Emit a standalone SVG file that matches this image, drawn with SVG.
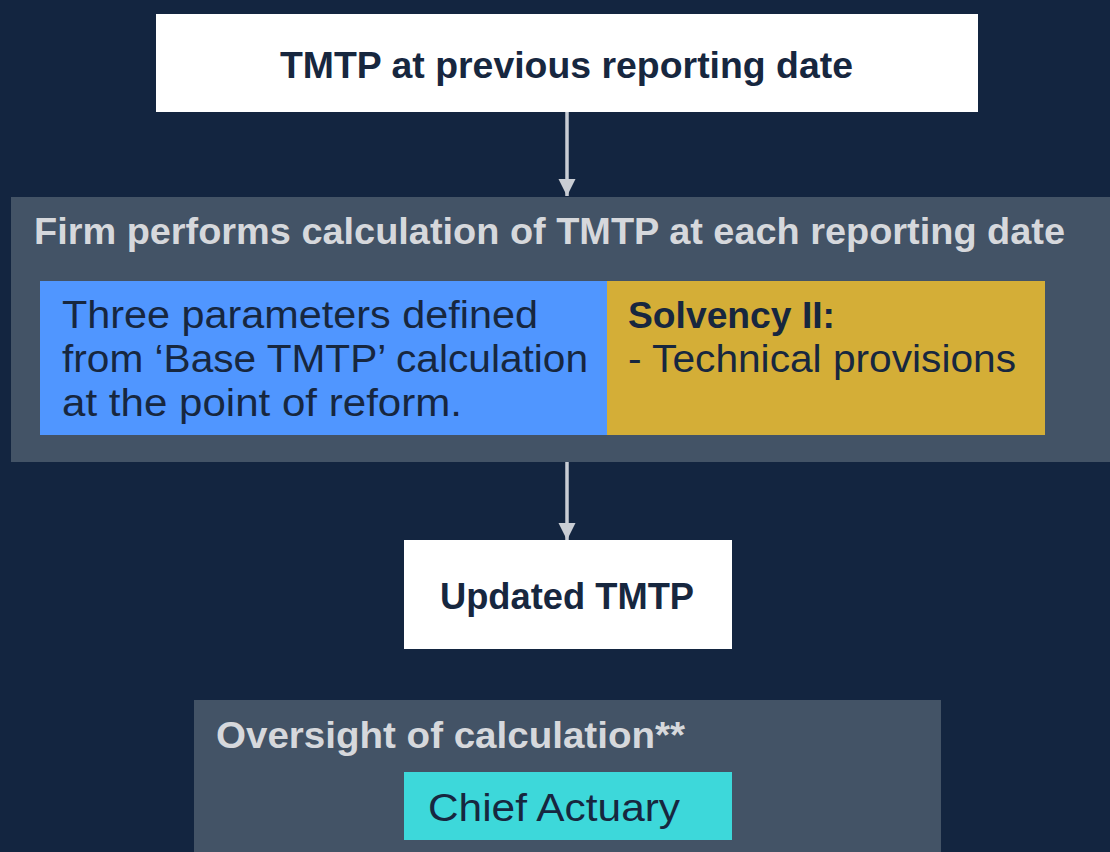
<svg xmlns="http://www.w3.org/2000/svg" width="1110" height="852" viewBox="0 0 1110 852">
<defs>
<marker id="ah" viewBox="0 0 10 10" refX="10" refY="5" markerWidth="5" markerHeight="5.5" markerUnits="strokeWidth" orient="auto">
<path d="M0,0 L10,5 L0,10 Z" fill="#C9CDD4"/>
</marker>
<style>
text{font-family:"Liberation Sans","DejaVu Sans",sans-serif;}
.b{font-weight:bold;}
.dark{fill:#17273F;}
.light{fill:#D6D8DC;}
.conn{stroke:#C9CDD4;stroke-width:3.5;fill:none;}
</style>
</defs>
<rect x="0" y="0" width="1110" height="852" fill="#132540"/>
<g id="node-top">
<rect x="156" y="14" width="822" height="98" fill="#FFFFFF"/>
<text x="280" y="78" font-size="37" class="b dark" textLength="573" lengthAdjust="spacingAndGlyphs">TMTP at previous reporting date</text>
</g>
<g id="node-firm">
<rect x="11" y="197" width="1099" height="265" fill="#435366"/>
<text x="34" y="244" font-size="37" class="b light" textLength="1031" lengthAdjust="spacingAndGlyphs">Firm performs calculation of TMTP at each reporting date</text>
</g>
<g id="node-params">
<rect x="40" y="281" width="567" height="154" fill="#5096FF"/>
<text x="62" y="328" font-size="38" class="dark" textLength="476" lengthAdjust="spacingAndGlyphs">Three parameters defined</text>
<text x="62" y="372" font-size="38" class="dark" textLength="526" lengthAdjust="spacingAndGlyphs">from ‘Base TMTP’ calculation</text>
<text x="62" y="416" font-size="38" class="dark" textLength="400" lengthAdjust="spacingAndGlyphs">at the point of reform.</text>
</g>
<g id="node-solvency">
<rect x="607" y="281" width="438" height="154" fill="#D4AE37"/>
<text x="628" y="328" font-size="37" class="b dark" textLength="207" lengthAdjust="spacingAndGlyphs">Solvency II:</text>
<text x="628" y="372" font-size="38" class="dark" textLength="388" lengthAdjust="spacingAndGlyphs">- Technical provisions</text>
</g>
<g id="node-updated">
<rect x="404" y="540" width="328" height="109" fill="#FFFFFF"/>
<text x="440" y="609" font-size="37" class="b dark" textLength="254" lengthAdjust="spacingAndGlyphs">Updated TMTP</text>
</g>
<g id="node-oversight">
<rect x="194" y="700" width="747" height="152" fill="#435366"/>
<text x="216" y="748" font-size="37" class="b light" textLength="469" lengthAdjust="spacingAndGlyphs">Oversight of calculation**</text>
</g>
<g id="node-chief">
<rect x="404" y="772" width="328" height="68" fill="#3DD8DA"/>
<text x="428" y="821" font-size="38" class="dark" textLength="252" lengthAdjust="spacingAndGlyphs">Chief Actuary</text>
</g>
<g id="connectors">
<line class="conn" x1="567" y1="112" x2="567" y2="196" marker-end="url(#ah)"/>
<line class="conn" x1="567" y1="462" x2="567" y2="540" marker-end="url(#ah)"/>
</g>
</svg>
